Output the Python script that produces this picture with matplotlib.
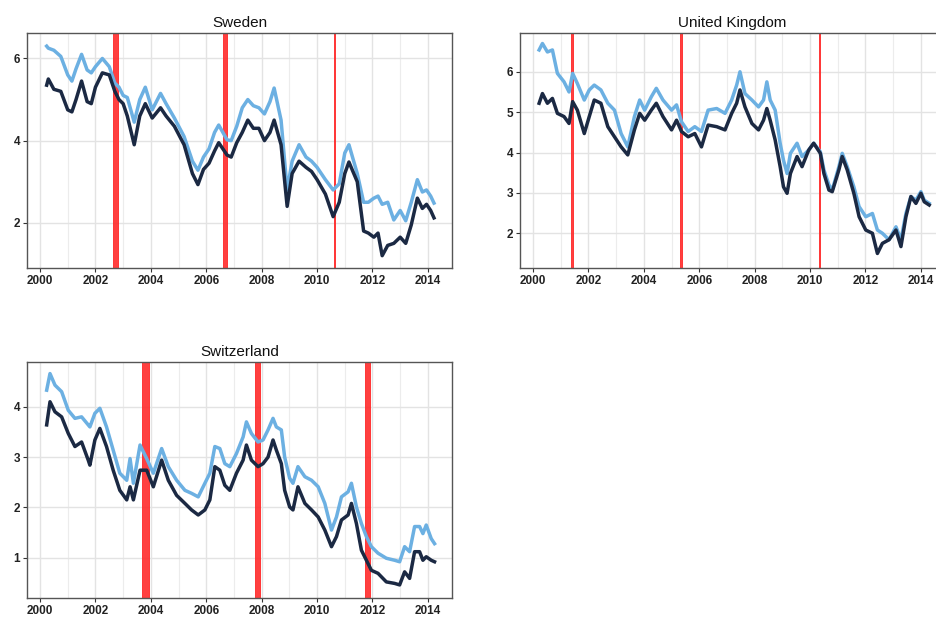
import matplotlib
matplotlib.use("Agg")
import matplotlib.pyplot as plt
from matplotlib.ticker import MultipleLocator

plt.rcParams['font.family'] = ['Liberation Sans', 'DejaVu Sans']

# ---------------- data ----------------
swe_t = [2000.24, 2000.3, 2000.5, 2000.75, 2001.0, 2001.15, 2001.3, 2001.5, 2001.7, 2001.85,
         2002.0, 2002.25, 2002.5, 2002.7, 2002.85, 2003.0, 2003.15, 2003.4, 2003.6, 2003.8,
         2004.05, 2004.35, 2004.55, 2004.85, 2005.2, 2005.5, 2005.7, 2005.9, 2006.1, 2006.3,
         2006.45, 2006.75, 2006.9, 2007.1, 2007.3, 2007.5, 2007.7, 2007.9, 2008.1, 2008.3,
         2008.45, 2008.7, 2008.92, 2009.1, 2009.35, 2009.6, 2009.8, 2010.0, 2010.3, 2010.58,
         2010.8, 2011.0, 2011.15, 2011.45, 2011.68, 2011.85, 2012.05, 2012.2, 2012.35, 2012.55,
         2012.77, 2013.0, 2013.2, 2013.4, 2013.62, 2013.8, 2013.95, 2014.1, 2014.22]
swe_light = [6.3, 6.25, 6.2, 6.05, 5.6, 5.45, 5.75, 6.1, 5.72, 5.65,
             5.8, 6.0, 5.8, 5.4, 5.3, 5.1, 5.05, 4.45, 5.0, 5.3,
             4.75, 5.15, 4.9, 4.55, 4.1, 3.5, 3.28, 3.6, 3.8, 4.2,
             4.38, 4.02, 4.0, 4.35, 4.8, 5.0, 4.85, 4.8, 4.65, 4.95,
             5.28, 4.5, 2.8, 3.5, 3.9, 3.6, 3.5, 3.35, 3.05, 2.8,
             2.95, 3.7, 3.9, 3.2, 2.5, 2.5, 2.6, 2.65, 2.45, 2.5,
             2.07, 2.3, 2.05, 2.5, 3.05, 2.75, 2.8, 2.65, 2.48]
swe_dark = [5.35, 5.5, 5.25, 5.2, 4.75, 4.7, 5.0, 5.45, 4.95, 4.9,
            5.3, 5.65, 5.6, 5.2, 5.0, 4.9, 4.6, 3.9, 4.6, 4.9,
            4.55, 4.8, 4.6, 4.35, 3.9, 3.2, 2.93, 3.3, 3.45, 3.75,
            3.95, 3.65, 3.6, 3.95, 4.2, 4.5, 4.3, 4.3, 4.0, 4.2,
            4.5, 3.9, 2.4, 3.2, 3.5, 3.35, 3.25, 3.05, 2.7, 2.15,
            2.5, 3.2, 3.48, 3.0, 1.8, 1.75, 1.65, 1.75, 1.2, 1.45,
            1.5, 1.65, 1.5, 1.95, 2.6, 2.35, 2.45, 2.3, 2.12]
swe_events = [(2002.62, 2002.83), (2006.62, 2006.75), (2010.60, 2010.65)]

uk_t = [2000.22, 2000.34, 2000.52, 2000.7, 2000.88, 2001.12, 2001.3, 2001.43, 2001.6, 2001.85,
        2002.03, 2002.21, 2002.45, 2002.7, 2002.94, 2003.18, 2003.42, 2003.66, 2003.85, 2004.03,
        2004.27, 2004.45, 2004.69, 2005.0, 2005.18, 2005.36, 2005.6, 2005.84, 2006.08, 2006.32,
        2006.63, 2006.93, 2007.17, 2007.35, 2007.47, 2007.65, 2007.9, 2008.14, 2008.32, 2008.44,
        2008.56, 2008.74, 2008.92, 2009.04, 2009.17, 2009.29, 2009.53, 2009.71, 2009.95, 2010.13,
        2010.37, 2010.5, 2010.68, 2010.8, 2011.04, 2011.16, 2011.34, 2011.58, 2011.77, 2012.01,
        2012.25, 2012.43, 2012.61, 2012.85, 2013.1, 2013.28, 2013.46, 2013.64, 2013.82, 2014.0,
        2014.12, 2014.3]
uk_light = [6.54, 6.7, 6.49, 6.54, 5.96, 5.75, 5.5, 5.96, 5.71, 5.3,
            5.55, 5.67, 5.55, 5.22, 5.05, 4.47, 4.14, 4.89, 5.3, 5.05,
            5.38, 5.59, 5.3, 5.05, 5.18, 4.76, 4.52, 4.64, 4.52, 5.05,
            5.09, 4.97, 5.3, 5.67, 6.0, 5.46, 5.3, 5.13, 5.3, 5.75,
            5.3, 5.05, 4.23, 3.81, 3.48, 3.98, 4.23, 3.9, 4.06, 4.23,
            4.02, 3.57, 3.2, 3.07, 3.65, 3.98, 3.65, 3.15, 2.66, 2.41,
            2.49, 2.08, 2.0, 1.84, 2.16, 1.84, 2.49, 2.91, 2.82, 3.03,
            2.82, 2.74]
uk_dark = [5.22, 5.46, 5.22, 5.34, 4.97, 4.89, 4.72, 5.26, 5.05, 4.47,
           4.89, 5.3, 5.22, 4.64, 4.39, 4.14, 3.94, 4.56, 4.97, 4.8,
           5.05, 5.22, 4.89, 4.56, 4.8, 4.52, 4.39, 4.47, 4.14, 4.68,
           4.64, 4.56, 4.97, 5.22, 5.55, 5.13, 4.72, 4.56, 4.8, 5.09,
           4.8, 4.31, 3.65, 3.15, 2.99, 3.48, 3.9, 3.65, 4.06, 4.23,
           3.98, 3.48, 3.07, 3.03, 3.57, 3.9, 3.57, 2.99, 2.41, 2.08,
           2.0, 1.5, 1.75, 1.84, 2.08, 1.67, 2.41, 2.91, 2.74, 2.99,
           2.78, 2.7]
uk_events = [(2001.38, 2001.43), (2005.32, 2005.37), (2010.32, 2010.37)]

che_t = [2000.24, 2000.36, 2000.54, 2000.78, 2001.02, 2001.26, 2001.50, 2001.74, 2001.80, 2001.98,
         2002.16, 2002.40, 2002.64, 2002.88, 2003.13, 2003.25, 2003.37, 2003.61, 2003.85, 2004.09,
         2004.39, 2004.63, 2004.93, 2005.23, 2005.47, 2005.71, 2005.95, 2006.13, 2006.31, 2006.49,
         2006.67, 2006.85, 2007.09, 2007.33, 2007.45, 2007.63, 2007.87, 2008.05, 2008.23, 2008.41,
         2008.53, 2008.71, 2008.83, 2009.01, 2009.13, 2009.31, 2009.56, 2009.80, 2010.04, 2010.28,
         2010.52, 2010.70, 2010.88, 2011.12, 2011.24, 2011.42, 2011.60, 2011.78, 2011.96, 2012.20,
         2012.50, 2012.80, 2012.98, 2013.16, 2013.34, 2013.52, 2013.70, 2013.82, 2013.94, 2014.12,
         2014.24]
che_light = [4.33, 4.66, 4.43, 4.3, 3.93, 3.77, 3.8, 3.64, 3.6, 3.87,
             3.97, 3.6, 3.14, 2.68, 2.54, 2.97, 2.48, 3.24, 2.97, 2.68,
             3.17, 2.81, 2.54, 2.34, 2.28, 2.21, 2.48, 2.68, 3.21, 3.17,
             2.87, 2.81, 3.07, 3.4, 3.7, 3.47, 3.3, 3.34, 3.54, 3.77,
             3.6, 3.54, 3.0, 2.58, 2.48, 2.81, 2.61, 2.54, 2.41, 2.08,
             1.55, 1.81, 2.21, 2.31, 2.48, 2.01, 1.68, 1.42, 1.22, 1.09,
             0.99, 0.95, 0.92, 1.22, 1.12, 1.62, 1.62, 1.48, 1.65, 1.38,
             1.28]
che_dark = [3.64, 4.1, 3.9, 3.8, 3.47, 3.21, 3.3, 2.94, 2.84, 3.34,
            3.57, 3.21, 2.74, 2.34, 2.15, 2.41, 2.15, 2.74, 2.74, 2.41,
            2.94, 2.54, 2.24, 2.08, 1.95, 1.85, 1.95, 2.15, 2.81, 2.74,
            2.44, 2.34, 2.68, 2.94, 3.24, 2.94, 2.81, 2.87, 3.0, 3.34,
            3.14, 2.87, 2.34, 2.01, 1.95, 2.41, 2.08, 1.95, 1.81, 1.55,
            1.22, 1.42, 1.75, 1.85, 2.08, 1.68, 1.15, 0.95, 0.75, 0.69,
            0.52, 0.49, 0.46, 0.72, 0.59, 1.12, 1.12, 0.95, 1.02, 0.95,
            0.92]
che_events = [(2003.69, 2003.94), (2007.75, 2007.94), (2011.72, 2011.91)]

year_ticks = [2000, 2002, 2004, 2006, 2008, 2010, 2012, 2014]

# ---------------- style ----------------
LIGHT = "#6cb0e2"
DARK = "#1b2943"
RED = "#ff2b2b"
W, H = 937, 622

fig = plt.figure(figsize=(W / 100, H / 100), dpi=100)


def make_axes(px_left, px_top, px_right, px_bottom):
    return fig.add_axes([px_left / W, 1 - px_bottom / H,
                         (px_right - px_left) / W, (px_bottom - px_top) / H])


def panel(ax, title, t, light, dark, events, ylim, ystep):
    for a, b in events:
        ax.axvspan(a, b, facecolor=RED, edgecolor=RED, alpha=0.9, lw=0.7, zorder=1)
    ax.plot(t, light, color=LIGHT, lw=2.5, zorder=3, solid_joinstyle='round')
    ax.plot(t, dark, color=DARK, lw=2.5, zorder=4, solid_joinstyle='round')
    ax.set_xlim(1999.53, 2014.87)
    ax.set_ylim(*ylim)
    ax.set_xticks(year_ticks)
    ax.set_xticklabels([str(y) for y in year_ticks])
    ax.xaxis.set_minor_locator(MultipleLocator(1))
    ax.yaxis.set_major_locator(MultipleLocator(ystep))
    ax.yaxis.set_major_formatter(matplotlib.ticker.FormatStrFormatter('%d'))
    ax.grid(True, which='major', color='#e3e3e3', lw=1.0, zorder=0)
    ax.grid(True, which='minor', axis='x', color='#ececec', lw=0.8, zorder=0)
    ax.set_axisbelow(True)
    ax.tick_params(axis='both', which='major', length=3, width=0.8, color='#333333',
                   labelsize=8.5, labelcolor='#222222', pad=2)
    ax.tick_params(axis='both', which='minor', length=0)
    for lab in ax.get_xticklabels() + ax.get_yticklabels():
        lab.set_fontweight('bold')
    for s in ax.spines.values():
        s.set_color('#555555')
        s.set_linewidth(1.0)
    ax.set_title(title, fontsize=11, pad=4, color='#111111')


ax1 = make_axes(27, 33, 452, 268)
panel(ax1, "Sweden", swe_t, swe_light, swe_dark, swe_events, (0.9, 6.62), 2)

ax2 = make_axes(520, 33, 945, 268)
panel(ax2, "United Kingdom", uk_t, uk_light, uk_dark, uk_events, (1.14, 6.96), 1)

ax3 = make_axes(27, 362, 452, 598)
panel(ax3, "Switzerland", che_t, che_light, che_dark, che_events, (0.2, 4.89), 1)

fig.savefig("out.png", dpi=100)
